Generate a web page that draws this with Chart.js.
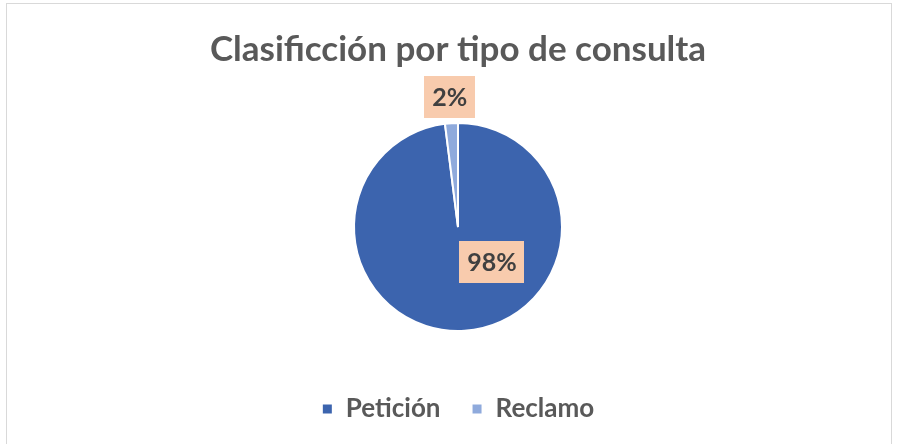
<!DOCTYPE html>
<html>
<head>
<meta charset="utf-8">
<script src="https://cdn.jsdelivr.net/npm/chart.js@4.4.1/dist/chart.umd.min.js"></script>
<style>
  html, body { margin: 0; padding: 0; background: #fff; }
  #wrap { position: relative; width: 899px; height: 444px; }
  #frame { position: absolute; left: 6px; top: 3px; width: 886px; height: 460px; border: 1px solid #d9d9d9; box-sizing: border-box; }
  #c { position: absolute; left: 0; top: 0; }
</style>
</head>
<body>
<div id="wrap">
  <div id="frame"></div>
  <canvas id="c" width="899" height="444"></canvas>
</div>
<script>
// datos del grafico
var categorias = ['Petición', 'Reclamo'];
var valores = [98, 2];
var etiquetas = ['98%', '2%'];
var colores = ['#3C64AE', '#8FAADC'];

// donde va cada etiqueta: angulo (grados, 0 = derecha, sentido horario) y distancia en radios
var posEtiquetas = [
  { ang: 46, dist: 0.47 },
  { ang: null, dist: 1.25 }
];

var etiquetasPlugin = {
  id: 'etiquetasPie',
  afterDatasetsDraw: function (chart) {
    var ctx = chart.ctx;
    var meta = chart.getDatasetMeta(0);
    ctx.save();
    ctx.font = 'bold 25px Lato';
    ctx.textAlign = 'center';
    ctx.textBaseline = 'middle';
    meta.data.forEach(function (arc, i) {
      var p = posEtiquetas[i];
      var a = p.ang === null ? (arc.startAngle + arc.endAngle) / 2 : p.ang * Math.PI / 180;
      var r = arc.outerRadius * p.dist;
      var x = arc.x + Math.cos(a) * r;
      var y = arc.y + Math.sin(a) * r;
      var w = ctx.measureText(etiquetas[i]).width + 16;
      var h = 42;
      ctx.fillStyle = '#F8CBAD';
      ctx.fillRect(Math.round(x - w / 2), Math.round(y - h / 2), Math.round(w), h);
      ctx.fillStyle = '#404040';
      ctx.fillText(etiquetas[i], x, y + 1);
    });
    ctx.restore();
  }
};

var ctx = document.getElementById('c');
var myChart = new Chart(ctx, {
  type: 'pie',
  data: {
    labels: categorias,
    datasets: [{
      data: valores,
      backgroundColor: colores,
      borderColor: '#ffffff',
      borderWidth: 2
    }]
  },
  options: {
    responsive: false,
    animation: false,
    radius: 104,
    layout: { padding: { left: 17, right: 0, top: 0, bottom: 12 } },
    plugins: {
      title: {
        display: true,
        text: 'Clasificción por tipo de consulta',
        color: '#595959',
        font: { family: 'Lato', size: 35, weight: 'bold' },
        padding: { top: 29, bottom: 18 }
      },
      legend: {
        display: true,
        position: 'bottom',
        labels: {
          color: '#595959',
          font: { family: 'Lato', size: 26, weight: 'bold' },
          boxWidth: 11,
          boxHeight: 11,
          padding: 31,
          usePointStyle: false
        }
      },
      tooltip: { enabled: false }
    }
  },
  plugins: [etiquetasPlugin]
});
</script>
</body>
</html>
